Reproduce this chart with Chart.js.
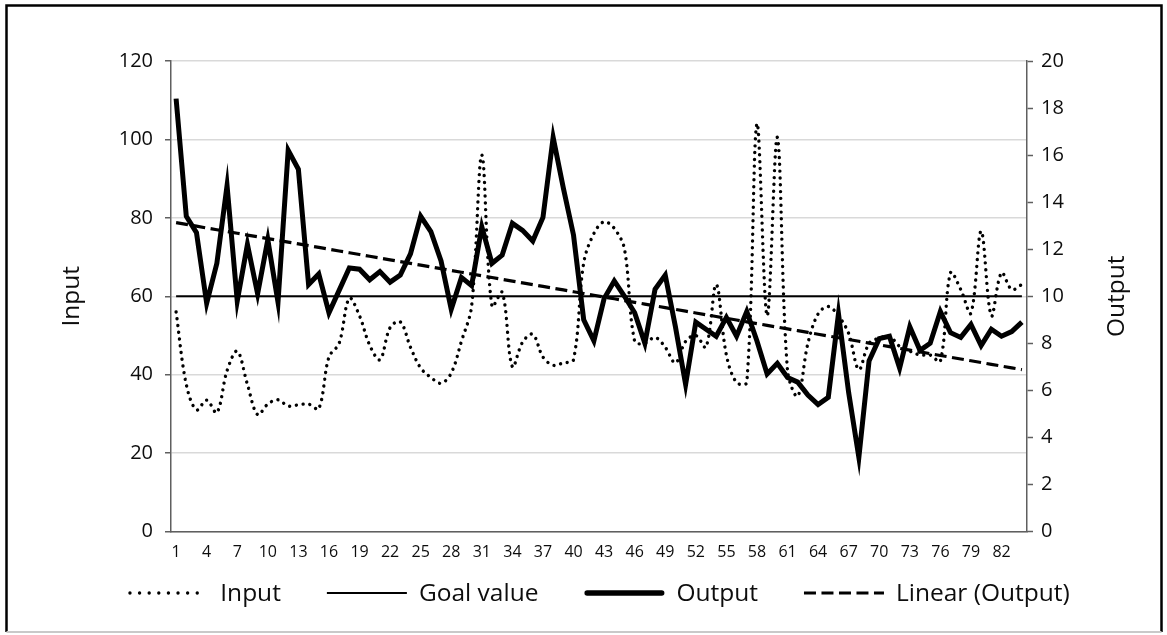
<!DOCTYPE html>
<html>
<head>
<meta charset="utf-8">
<title>Input / Output</title>
<script src="https://cdn.jsdelivr.net/npm/chart.js@4.4.1/dist/chart.umd.min.js"></script>
<style>
  html, body { margin: 0; padding: 0; background: #ffffff; }
  #wrap { position: relative; width: 1167px; height: 635px; }
  canvas { display: block; }
</style>
</head>
<body>
<div id="wrap"><canvas id="chart" width="1167" height="635"></canvas></div>
<script>
// Sample numbers along the x axis
const categories = [
  '1','2','3','4','5','6','7','8','9','10','11','12','13','14','15','16','17','18','19','20',
  '21','22','23','24','25','26','27','28','29','30','31','32','33','34','35','36','37','38','39','40',
  '41','42','43','44','45','46','47','48','49','50','51','52','53','54','55','56','57','58','59','60',
  '61','62','63','64','65','66','67','68','69','70','71','72','73','74','75','76','77','78','79','80',
  '81','82','83','84'
];

// Input (left axis)
const inputValues = [
  56, 37.5, 31, 33.5, 30.3, 41, 46, 37.5, 29.8, 32.5,
  33.6, 32, 32.3, 32.5, 31.3, 44.5, 48, 59.5, 55, 47.5,
  43.8, 52, 53.5, 47, 41.7, 39.3, 37.8, 40.4, 48.5, 57.5,
  96, 57.4, 61, 42, 48.3, 50.3, 44.5, 42.4, 43, 43.8,
  68.5, 76, 79, 77.3, 72, 48.5, 48, 49.5, 47, 43,
  48.5, 50, 47, 63, 45, 38, 38, 104, 55, 100.5,
  41, 34.5, 48, 55.5, 57.4, 55, 50.5, 41.3, 48, 49.3,
  49.8, 47.2, 46, 45, 45, 43.4, 66, 61.7, 55.7, 76.6,
  55, 66, 61.7, 63
];

// Output (right axis)
const outputValues = [
  18.4, 13.4, 12.7, 9.7, 11.4, 14.7, 9.8, 12.2, 10.1, 12.4,
  9.75, 16.2, 15.4, 10.5, 10.95, 9.3, 10.25, 11.2, 11.15, 10.7,
  11.05, 10.6, 10.9, 11.8, 13.4, 12.75, 11.5, 9.45, 10.8, 10.45,
  12.95, 11.4, 11.75, 13.1, 12.8, 12.35, 13.35, 16.75, 14.6, 12.6,
  9.0, 8.1, 9.9, 10.65, 10.0, 9.3, 8.0, 10.3, 10.9, 8.7,
  6.25, 8.9, 8.6, 8.3, 9.1, 8.3, 9.35, 8.1, 6.7, 7.15,
  6.55, 6.35, 5.8, 5.4, 5.7, 9.25, 5.9, 3.15, 7.25, 8.2,
  8.3, 6.95, 8.7, 7.7, 8.0, 9.35, 8.45, 8.25, 8.8, 7.9,
  8.6, 8.3, 8.5, 8.9
];

// Goal value on the input scale
const goalValue = 60;
const goalValues = categories.map(() => goalValue);

// Axis ticks
const inputTicks = [0, 20, 40, 60, 80, 100, 120];
const outputTicks = [0, 2, 4, 6, 8, 10, 12, 14, 16, 18, 20];

// Least-squares straight line through the output series
function linearTrend(values) {
  const n = values.length;
  let sx = 0, sy = 0, sxx = 0, sxy = 0;
  values.forEach((v, i) => {
    const x = i + 1;
    sx += x; sy += v; sxx += x * x; sxy += x * v;
  });
  const slope = (n * sxy - sx * sy) / (n * sxx - sx * sx);
  const intercept = (sy - slope * sx) / n;
  return values.map((_, i) => intercept + slope * (i + 1));
}
const trendValues = linearTrend(outputValues);

const FONT = 'Open Sans';
const TEXT = '#0d0d0d';
const AXIS = '#5f5f5f';

// Legend line samples (own dash patterns so they read like the plotted lines)
const legendSamples = [
  { width: 3.4, dash: [0.01, 9.6], cap: 'round' },
  { width: 2.2, dash: [],          cap: 'butt'  },
  { width: 5.5, dash: [],          cap: 'round' },
  { width: 3.2, dash: [12, 5.5],   cap: 'butt'  }
];

const decorations = {
  id: 'decorations',
  afterDraw(chart) {
    const ctx = chart.ctx;
    const area = chart.chartArea;
    ctx.save();

    // axis titles
    ctx.fillStyle = TEXT;
    ctx.font = '24.5px "' + FONT + '"';
    ctx.textAlign = 'center';
    ctx.textBaseline = 'middle';
    const midY = (area.top + area.bottom) / 2;
    [['Input', 72], ['Output', 1117]].forEach(([t, x]) => {
      ctx.save();
      ctx.translate(x, midY);
      ctx.rotate(-Math.PI / 2);
      ctx.fillText(t, 0, 0);
      ctx.restore();
    });

    // legend row
    const sampleLen = 80, gapText = 12, gapItem = 46, legendY = 593;
    ctx.font = '24.5px "' + FONT + '"';
    const items = chart.data.datasets.map((ds, i) => ({
      label: ds.label, w: ctx.measureText(ds.label).width, s: legendSamples[i]
    }));
    let total = 0;
    items.forEach((it, i) => { total += sampleLen + gapText + it.w + (i < items.length - 1 ? gapItem : 0); });
    let x = (area.left + area.right) / 2 - total / 2;
    items.forEach(it => {
      ctx.beginPath();
      ctx.strokeStyle = '#000';
      ctx.lineWidth = it.s.width;
      ctx.lineCap = it.s.cap;
      ctx.setLineDash(it.s.dash);
      const inset = it.s.cap === 'round' ? it.s.width / 2 : 0;
      ctx.moveTo(x + inset, legendY);
      ctx.lineTo(x + sampleLen - inset, legendY);
      ctx.stroke();
      ctx.setLineDash([]);
      ctx.textAlign = 'left';
      ctx.fillStyle = TEXT;
      ctx.fillText(it.label, x + sampleLen + gapText, legendY + 1);
      x += sampleLen + gapText + it.w + gapItem;
    });

    // outer frame
    ctx.lineCap = 'butt';
    ctx.strokeStyle = '#000';
    ctx.lineWidth = 2.5;
    ctx.beginPath();
    ctx.moveTo(6.5, 632);
    ctx.lineTo(6.5, 5.5);
    ctx.lineTo(1161.5, 5.5);
    ctx.lineTo(1161.5, 632);
    ctx.stroke();
    ctx.strokeStyle = '#c9c9c9';
    ctx.lineWidth = 2;
    ctx.beginPath();
    ctx.moveTo(6.5, 632);
    ctx.lineTo(1161.5, 632);
    ctx.stroke();
    ctx.restore();
  }
};

new Chart(document.getElementById('chart').getContext('2d'), {
  type: 'line',
  data: {
    labels: categories,
    datasets: [
      {
        label: 'Input', data: inputValues, yAxisID: 'yInput',
        borderColor: '#000', borderWidth: 3.4, borderDash: [0.01, 6.8], borderCapStyle: 'round',
        tension: 0.35, pointRadius: 0, fill: false, order: 3
      },
      {
        label: 'Goal value', data: goalValues, yAxisID: 'yInput',
        borderColor: '#000', borderWidth: 2.2, pointRadius: 0, fill: false, order: 2
      },
      {
        label: 'Output', data: outputValues, yAxisID: 'yOutput',
        borderColor: '#000', borderWidth: 5, borderJoinStyle: 'miter', borderCapStyle: 'butt',
        tension: 0, pointRadius: 0, fill: false, order: 0
      },
      {
        label: 'Linear (Output)', data: trendValues, yAxisID: 'yOutput',
        borderColor: '#000', borderWidth: 3.2, borderDash: [12, 5.5],
        tension: 0, pointRadius: 0, fill: false, order: 1
      }
    ]
  },
  options: {
    responsive: false,
    animation: false,
    devicePixelRatio: 1,
    layout: { padding: { left: 0, right: 0, top: 61, bottom: 64 } },
    plugins: { legend: { display: false }, tooltip: { enabled: false } },
    scales: {
      x: {
        type: 'category',
        offset: true,
        grid: { display: false, drawTicks: false },
        border: { color: AXIS, width: 1.5 },
        ticks: {
          autoSkip: false, maxRotation: 0, minRotation: 0, padding: 11,
          color: TEXT, font: { family: FONT, size: 16 },
          callback: (v, i) => (i % 3 === 0 ? categories[i] : null)
        },
        afterFit: s => { s.height = 39.5; }
      },
      yInput: {
        position: 'left',
        min: inputTicks[0], max: inputTicks[inputTicks.length - 1],
        afterBuildTicks: s => { s.ticks = inputTicks.map(v => ({ value: v })); },
        grid: { color: '#d9d9d9', lineWidth: 1.5, tickLength: 6, tickColor: AXIS, tickWidth: 1.5 },
        border: { color: AXIS, width: 1.5 },
        ticks: { padding: 12, color: TEXT, font: { family: FONT, size: 20 } },
        afterFit: s => { s.width = 171; }
      },
      yOutput: {
        position: 'right',
        min: outputTicks[0], max: outputTicks[outputTicks.length - 1],
        afterBuildTicks: s => { s.ticks = outputTicks.map(v => ({ value: v })); },
        grid: { drawOnChartArea: false, tickLength: 6, tickColor: AXIS, tickWidth: 1.5 },
        border: { color: AXIS, width: 1.5 },
        ticks: { padding: 8, color: TEXT, font: { family: FONT, size: 20 } },
        afterFit: s => { s.width = 140; }
      }
    }
  },
  plugins: [decorations]
});
</script>
</body>
</html>
